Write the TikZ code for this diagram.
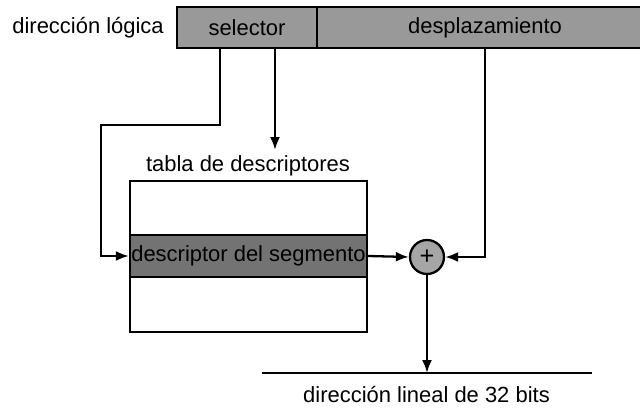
\documentclass[tikz,border=0pt]{standalone}
\usepackage{fontspec}
\setmainfont{Liberation Sans}
\usetikzlibrary{arrows.meta}

\tikzset{
  campo/.style={draw, line width=1.3pt, fill=black!40, inner sep=0pt, minimum height=0.82cm},
  arr/.style={line width=1.3pt, -{Latex[length=2.6mm,width=2mm]}},
}

\begin{document}
\begin{tikzpicture}[x=0.02cm, y=-0.02cm, font=\fontsize{12.5}{15}\selectfont]
\useasboundingbox (0,0) rectangle (640,409);

% direccion logica
\node[anchor=base west, inner sep=0pt] (dirlog) at (12,33) {dirección lógica};
\node[campo, minimum width=2.8cm] (sel) at (247,27.5) {selector};
\node[campo, minimum width=6.72cm] (desp) at (485,27.5) {desplazamiento};

% tabla de descriptores
\node[anchor=base, inner sep=0pt] (tablbl) at (248,172) {tabla de descriptores};
\node[draw, line width=1.3pt, minimum width=4.74cm, minimum height=3.02cm] (tab) at (248.5,256.5) {};
\node[draw, line width=1.3pt, fill=black!55, inner sep=0pt, minimum width=4.74cm, minimum height=0.84cm] (desc) at (248.5,256) {descriptor del segmento};

% sumador
\node[draw, line width=1.3pt, circle, fill=black!35, minimum size=0.68cm, inner sep=0pt] (sum) at (427,257) {\Large +};

\coordinate (bend) at (101,125);
\coordinate (tip) at (275,150);
\coordinate (outL) at (262,373);
\coordinate (outR) at (592,373);

\draw[arr] ([xshift=-0.54cm]sel.south) |- (bend) |- (desc.west);
\draw[arr] (tip |- sel.south) -- (tip);
\draw[arr] (desp.south) |- (sum.east);
\draw[arr] (desc.east) -- (sum.west);
\draw[arr] (sum.south) -- (sum.south |- outL);
\draw[line width=1.3pt] (outL) -- (outR);

\node[anchor=base, inner sep=0pt] (dirlin) at (426.5,402) {dirección lineal de 32 bits};
\end{tikzpicture}
\end{document}
